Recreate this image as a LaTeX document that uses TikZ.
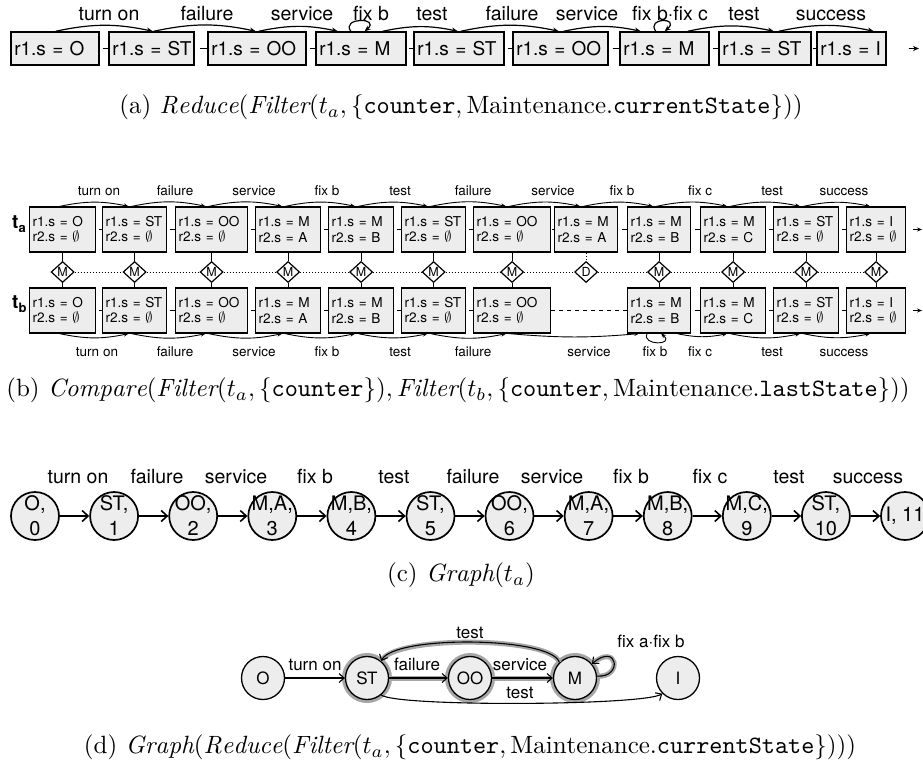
\documentclass[tikz,border=0pt]{standalone}
\usepackage{fontspec}
\usepackage{graphicx}
\newfontfamily\hv{TeX Gyre Heros}
\usetikzlibrary{arrows.meta,calc,shapes.geometric}
\definecolor{boxgray}{HTML}{EDEDED}
\definecolor{hlgray}{HTML}{A6A6A6}
\newcommand\emptyS{$\emptyset$}
\newcommand\capt[1]{\scalebox{2.5}{#1}}
\begin{document}
\begin{tikzpicture}[x=1pt,y=-1pt,
 ab/.style={draw, fill=boxgray, line width=1.5pt, minimum height=33pt, inner xsep=3.5pt, inner ysep=0pt, align=left, anchor=west, font=\hv\fontsize{19}{22}\selectfont},
 bb/.style={draw, fill=boxgray, line width=1.2pt, minimum height=45pt, inner xsep=3pt, inner ysep=0pt, align=left, anchor=west, font=\hv\fontsize{13.6}{15.5}\selectfont},
 alab/.style={inner sep=0pt, anchor=base, font=\hv\fontsize{19.5}{22}\selectfont},
 blab/.style={inner sep=0pt, anchor=base, font=\hv\fontsize{13.5}{15}\selectfont},
 clab/.style={inner sep=0pt, anchor=base, font=\hv\fontsize{19.5}{22}\selectfont},
 dlab/.style={inner sep=0pt, anchor=base, font=\hv\fontsize{17}{19}\selectfont},
 aline/.style={line width=1.5pt},
 aarr/.style={line width=1.2pt, -{Stealth[length=6pt,width=5pt]}},
 bline/.style={line width=1.2pt},
 barr/.style={line width=0.9pt, -{Stealth[length=5pt,width=4pt]}},
 dia/.style={diamond, draw, fill=white, line width=1.2pt, minimum width=23pt, minimum height=21pt, inner sep=0pt, font=\hv\fontsize{12.5}{12.5}\selectfont},
 cc/.style={circle, draw, fill=boxgray, line width=1.7pt, minimum size=48pt, inner sep=0pt},
 ctext/.style={inner sep=0pt, align=center, font=\hv\fontsize{20}{25}\selectfont},
 carr/.style={line width=1.6pt, -{Straight Barb[length=6pt,width=11pt]}},
 dc/.style={circle, draw, fill=boxgray, line width=1.3pt, minimum size=43pt, inner sep=0pt, font=\hv\fontsize{17}{19}\selectfont},
 hring/.style={preaction={draw=hlgray, line width=7pt}},
 darr/.style={line width=1.1pt, -{Straight Barb[length=5pt,width=9pt]}},
 hl/.style={preaction={draw=hlgray, line width=5pt, -}},
 captxt/.style={inner sep=0pt},
]
\fill[white] (0,0) rectangle (923,769);
\useasboundingbox (0,0) rectangle (923,769);

% ---------------- (a) ----------------
\foreach \i/\x/\w/\p in {1/10/88/O, 2/108/85/ST, 3/207/98/OO, 4/315/90/M, 5/413/90/ST, 6/512/95/OO, 7/619/89/M, 8/718/92/ST, 9/816/69/I} {
  \pgfmathsetmacro\tw{\w-7}
  \node[ab, text width=\tw pt] (a\i) at (\x,48.5) {\mbox{r1.s = \p}};
}
\foreach \i/\j in {1/2,2/3,3/4,4/5,5/6,6/7,7/8,8/9}
  \draw[aline] ($(a\i.east)!0.4!(a\j.west)$) -- (a\j.west);
\coordinate (aend) at (919,48.5);
\draw[aarr] ($(a9.east)+(22,0)$) -- (aend);
\draw[aarr] ([xshift=1]a1.north) to[bend left=12] ([xshift=1.5]a2.north);
\draw[aarr] ([xshift=2.5]a2.north) to[bend left=12] ([xshift=-1]a3.north);
\draw[aarr] ([xshift=2]a3.north) to[bend left=12] ([xshift=-23]a4.north);
\draw[aarr] ([xshift=22]a4.north) to[bend left=12] ([xshift=-1]a5.north);
\draw[aarr] ([xshift=2]a5.north) to[bend left=12] ([xshift=-1.5]a6.north);
\draw[aarr] ([xshift=3.5]a6.north) to[bend left=12] ([xshift=-23.5]a7.north);
\draw[aarr] ([xshift=23.5]a7.north) to[bend left=12] ([xshift=9]a8.north);
\draw[aarr] ([xshift=14]a8.north) to[bend left=12] ([xshift=22.5]a9.north);
\draw[aarr] ([xshift=-10]a4.north) .. controls +(-10,-14) and +(16,-14) .. ([xshift=4]a4.north);
\draw[aarr] ([xshift=-8.5]a7.north) .. controls +(-10,-14) and +(16,-14) .. ([xshift=0.5]a7.north);
\foreach \t/\x [count=\k] in {turn on/109, failure/207, service/302, fix b/371, test/432, failure/512, service/587, fix b·fix c/670, test/744, success/831}
  \node[alab] (la\k) at (\x,20) {\t};

\node[captxt] (capa) at (461,107) {\capt{(a) $\mathit{Reduce}(\mathit{Filter}(t_a,\{\mathtt{counter},\mathrm{Maintenance}.\mathtt{currentState}\}))$}};

% ---------------- (b) ----------------
\foreach \i/\x/\w/\p/\q in {1/29/66/O/\emptyS, 2/102/64/ST/\emptyS, 3/175/72/OO/\emptyS, 4/255/65/M/A, 5/328/65/M/B, 6/401/64/ST/\emptyS, 7/473/77/OO/\emptyS, 8/554/63/M/A, 9/627/63/M/B, 10/700/65/M/C, 11/773/65/ST/\emptyS, 12/846/59/I/\emptyS} {
  \pgfmathsetmacro\tw{\w-6}
  \node[bb, text width=\tw pt] (ta\i) at (\x,229.5) {\mbox{r1.s = \p}\\\mbox{r2.s = \q}};
}
\foreach \i/\x/\w/\p/\q in {1/29/66/O/\emptyS, 2/102/64/ST/\emptyS, 3/175/72/OO/\emptyS, 4/255/65/M/A, 5/328/65/M/B, 6/401/64/ST/\emptyS, 7/473/77/OO/\emptyS, 9/627/63/M/B, 10/700/65/M/C, 11/773/65/ST/\emptyS, 12/846/59/I/\emptyS} {
  \pgfmathsetmacro\tw{\w-6}
  \node[bb, text width=\tw pt] (tb\i) at (\x,310.5) {\mbox{r1.s = \p}\\\mbox{r2.s = \q}};
}
\node[anchor=base west, inner sep=0pt, font=\hv\bfseries\fontsize{19}{19}\selectfont] (tA) at (12,228) {t\raisebox{-4pt}{\fontsize{13}{13}\selectfont a}};
\node[anchor=base west, inner sep=0pt, font=\hv\bfseries\fontsize{19}{19}\selectfont] (tB) at (12,308) {t\raisebox{-4pt}{\fontsize{13}{13}\selectfont b}};

\foreach \i/\j in {1/2,2/3,3/4,4/5,5/6,6/7,7/8,8/9,9/10,10/11,11/12}
  \draw[bline] ($(ta\i.east)!0.4!(ta\j.west)$) -- (ta\j.west);
\foreach \i/\j in {1/2,2/3,3/4,4/5,5/6,6/7,9/10,10/11,11/12}
  \draw[bline] ($(tb\i.east)!0.4!(tb\j.west)$) -- (tb\j.west);
\draw[bline, dash pattern=on 4pt off 4pt] (tb7.east) -- (tb9.west);
\coordinate (taend) at (922,229.5);
\coordinate (tbend) at (922,310.5);
\draw[barr] ($(ta12.east)+(7,0)$) -- (taend);
\draw[barr] ($(tb12.east)+(7,0)$) -- (tbend);

% diamonds
\foreach \i in {1,2,3,4,5,6,7,9,10,11,12}
  \node[dia] (d\i) at (ta\i |- 0,272) {M};
\node[dia] (d8) at (ta8 |- 0,272) {D};
\foreach \i/\j in {1/2,2/3,3/4,4/5,5/6,6/7,7/8,8/9,9/10,10/11,11/12}
  \draw[line width=1pt, dotted] (d\i.east) -- (d\j.west);
\foreach \i in {1,2,3,4,5,6,7,9,10,11,12} {
  \draw[bline] (ta\i.south) -- (d\i.north);
  \draw[bline] (d\i.south) -- (tb\i.north);
}
\draw[bline, dotted] (ta8.south) -- (d8.north);

% top arcs
\foreach \i/\j in {1/2,2/3,3/4,4/5,5/6,6/7,7/8,8/9,9/10,10/11,11/12}
  \draw[barr] ([xshift=-3]ta\i.north) to[bend left=12] ([xshift=-6]ta\j.north);
% bottom arcs
\foreach \i/\j in {1/2,2/3,3/4,4/5,5/6,6/7}
  \draw[barr] ([xshift=-3]tb\i.south) to[bend right=12] ([xshift=-6]tb\j.south);
\draw[barr] ([xshift=-3]tb7.south) to[bend right=5] ([xshift=-20]tb9.south);
\draw[barr] ([xshift=-12]tb9.south) .. controls +(-6,12) and +(14,12) .. ([xshift=2]tb9.south);
\draw[barr] ([xshift=18]tb9.south) to[bend right=12] ([xshift=-6]tb10.south);
\draw[barr] ([xshift=-3]tb10.south) to[bend right=12] ([xshift=-6]tb11.south);
\draw[barr] ([xshift=-3]tb11.south) to[bend right=12] ([xshift=-6]tb12.south);

\foreach \t/\x [count=\k] in {turn on/99, failure/175, service/254, fix b/327, test/400, failure/473, service/553, fix b/622, fix c/700, test/772, success/844}
  \node[blab] (lbt\k) at (\x,195.5) {\t};
\foreach \t/\x [count=\k] in {turn on/97, failure/175, service/254, fix b/327, test/400, failure/473, service/589, fix b/655, fix c/700, test/772, success/844}
  \node[blab] (lbb\k) at (\x,356) {\t};

\node[captxt] (capb) at (458,390) {\capt{(b) $\mathit{Compare}(\mathit{Filter}(t_a,\{\mathtt{counter}\}),\mathit{Filter}(t_b,\{\mathtt{counter},\mathrm{Maintenance}.\mathtt{lastState}\}))$}};

% ---------------- (c) ----------------
\node[cc, label={[ctext]center:{O,\\0}}] (c1) at (35,516) {};
\node[cc, label={[ctext]center:{ST,\\1}}] (c2) at (114.1,516) {};
\node[cc, label={[ctext]center:{OO,\\2}}] (c3) at (193.2,516) {};
\node[cc, label={[ctext]center:{M,A,\\3}}] (c4) at (272.3,516) {};
\node[cc, label={[ctext]center:{M,B,\\4}}] (c5) at (351.4,516) {};
\node[cc, label={[ctext]center:{ST,\\5}}] (c6) at (430.5,516) {};
\node[cc, label={[ctext]center:{OO,\\6}}] (c7) at (509.5,516) {};
\node[cc, label={[ctext]center:{M,A,\\7}}] (c8) at (588.6,516) {};
\node[cc, label={[ctext]center:{M,B,\\8}}] (c9) at (667.7,516) {};
\node[cc, label={[ctext]center:{M,C,\\9}}] (c10) at (746.8,516) {};
\node[cc, label={[ctext]center:{ST,\\10}}] (c11) at (825.9,516) {};
\node[cc, label={[ctext]center:{I, 11}}] (c12) at (905,516) {};
\foreach \i/\j in {1/2,2/3,3/4,4/5,5/6,6/7,7/8,8/9,9/10,10/11,11/12}
  \draw[carr] (c\i) -- (c\j);
\foreach \t/\x [count=\k] in {turn on/78, failure/157, service/236, fix b/315, test/394, failure/473, service/552, fix b/631, fix c/710, test/789, success/868}
  \node[clab] (lc\k) at (\x,483) {\t};

\node[captxt] (capc) at (461,575) {\capt{(c) $\mathit{Graph}(t_a)$}};

% ---------------- (d) ----------------
\node[dc] (dO) at (263,678) {O};
\node[dc, hring] (dST) at (367,678) {ST};
\node[dc, hring] (dOO) at (470,678) {OO};
\node[dc, hring] (dM) at (575,678) {M};
\node[dc] (dI) at (678,678) {I};
\draw[darr] (dO) -- (dST);
\draw[darr, hl] (dST) -- (dOO);
\draw[darr, hl] (dOO) -- (dM);
\draw[darr, hl] (dM.135) .. controls +(-8,-26) and +(12,-26) .. (dST.50);
\draw[darr, hl] (dM.5) .. controls +(26,2) and +(26,-22) .. (dM.40);
\draw[darr] (dST.-50) .. controls +(15,12) and +(-20,12) .. (dI.225);
\node[dlab] (ld1) at (315,670) {turn on};
\node[dlab] (ld2) at (417,670) {failure};
\node[dlab] (ld3) at (520,670) {service};
\node[dlab] (ld4) at (470,638) {test};
\node[dlab] (ld5) at (520,698) {test};
\node[dlab] (ld6) at (651,647) {fix a·fix b};

\node[captxt] (capd) at (470,747) {\capt{(d) $\mathit{Graph}(\mathit{Reduce}(\mathit{Filter}(t_a,\{\mathtt{counter},\mathrm{Maintenance}.\mathtt{currentState}\})))$}};
\end{tikzpicture}
\end{document}
